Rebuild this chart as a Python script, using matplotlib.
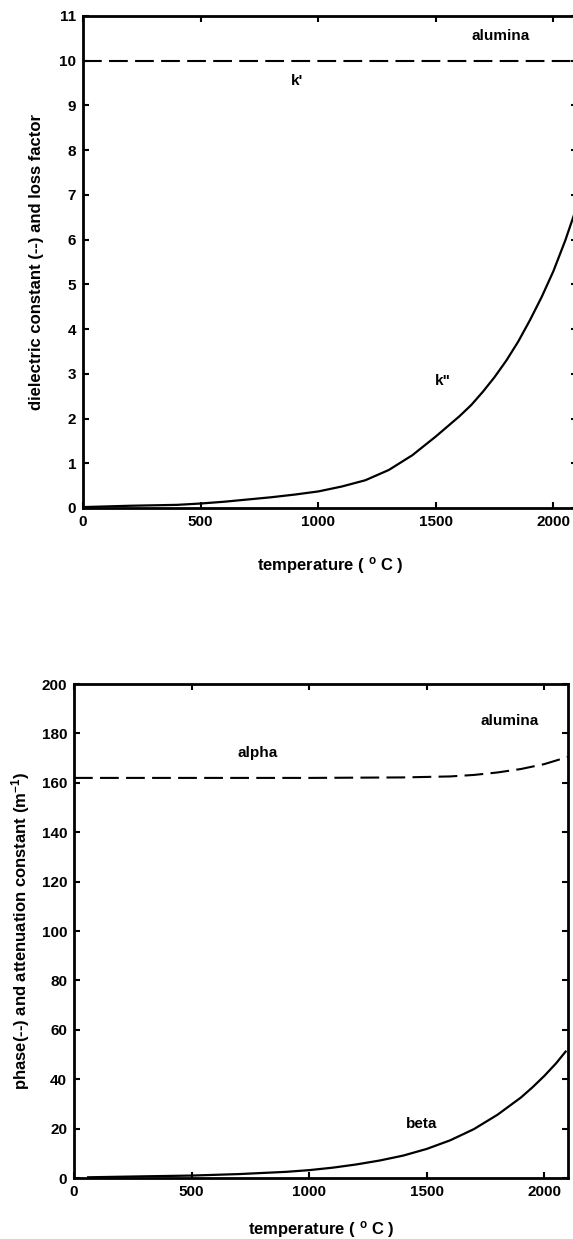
import matplotlib
matplotlib.use("Agg")
import matplotlib.pyplot as plt

plt.rcParams['font.family'] = ['Liberation Sans', 'DejaVu Sans']
plt.rcParams['mathtext.fontset'] = 'custom'
plt.rcParams['mathtext.rm'] = 'Liberation Sans:bold'
plt.rcParams['mathtext.it'] = 'Liberation Sans:italic:bold'
plt.rcParams['mathtext.bf'] = 'Liberation Sans:bold'

# dielectric constant (k') and loss factor (k'') of alumina vs temperature
temp_k = [0, 200, 400, 500, 600, 700, 800, 900, 1000, 1100, 1200, 1300, 1400,
          1500, 1600, 1650, 1700, 1750, 1800, 1850, 1900, 1950, 2000, 2050, 2100]
k_prime = [10.0] * len(temp_k)
k_loss = [0.02, 0.05, 0.07, 0.1, 0.14, 0.19, 0.24, 0.3, 0.37, 0.48, 0.62,
          0.85, 1.18, 1.6, 2.05, 2.3, 2.6, 2.93, 3.3, 3.72, 4.2, 4.72, 5.3,
          5.98, 6.75]

# attenuation (alpha) and phase (beta) constants
temp_a = [0, 500, 1000, 1400, 1600, 1700, 1800, 1900, 2000, 2100]
alpha = [162.0, 162.0, 162.0, 162.2, 162.6, 163.2, 164.2, 165.6, 167.6, 170.5]
temp_b = [60, 300, 500, 700, 900, 1000, 1100, 1200, 1300, 1400, 1500, 1600,
          1700, 1800, 1900, 1950, 2000, 2050, 2090]
beta = [0.3, 0.7, 1.0, 1.6, 2.5, 3.2, 4.2, 5.5, 7.1, 9.1, 11.8, 15.3, 19.8,
        25.6, 32.6, 36.8, 41.4, 46.5, 51.2]

x_ticks = [0, 500, 1000, 1500, 2000]

fig = plt.figure(figsize=(5.73, 12.39), dpi=100)
ax1 = fig.add_axes([0.1449, 0.5900, 0.8621, 0.3971])
ax2 = fig.add_axes([0.1291, 0.0492, 0.8621, 0.3987])

dash = (0, (9, 3.5))
xlab = 'temperature ( $^{\\mathrm{o}}$ C )'
fs = 11

# --- top panel ---
ax1.plot(temp_k, k_prime, color='black', linewidth=1.5, linestyle=dash)
ax1.plot(temp_k, k_loss, color='black', linewidth=1.6)
ax1.set_xlim(0, 2100)
ax1.set_ylim(0, 11)
ax1.set_yticks(range(0, 12))
ax1.set_xticks(x_ticks)
ax1.text(1775, 10.55, 'alumina', ha='center', va='center', fontsize=fs, fontweight='bold')
ax1.text(910, 9.55, "k'", ha='center', va='center', fontsize=fs, fontweight='bold')
ax1.text(1530, 2.85, 'k"', ha='center', va='center', fontsize=fs, fontweight='bold')
ax1.set_xlabel(xlab, fontsize=12, fontweight='bold')
ax1.set_ylabel('dielectric constant (--) and loss factor', fontsize=12, fontweight='bold')
ax1.xaxis.set_label_coords(0.5, -0.095)
ax1.yaxis.set_label_coords(-0.08, 0.5)

# --- bottom panel ---
ax2.plot(temp_a, alpha, color='black', linewidth=1.5, linestyle=dash)
ax2.plot(temp_b, beta, color='black', linewidth=1.6)
ax2.set_xlim(0, 2100)
ax2.set_ylim(0, 200)
ax2.set_yticks(range(0, 201, 20))
ax2.set_xticks(x_ticks)
ax2.text(1850, 185, 'alumina', ha='center', va='center', fontsize=fs, fontweight='bold')
ax2.text(780, 172, 'alpha', ha='center', va='center', fontsize=fs, fontweight='bold')
ax2.text(1480, 22, 'beta', ha='center', va='center', fontsize=fs, fontweight='bold')
ax2.set_xlabel(xlab, fontsize=12, fontweight='bold')
ax2.set_ylabel('phase(--) and attenuation constant (m$^{-1}$)',
               fontsize=12, fontweight='bold')
ax2.xaxis.set_label_coords(0.5, -0.082)
ax2.yaxis.set_label_coords(-0.085, 0.5)

for ax in (ax1, ax2):
    for s in ax.spines.values():
        s.set_linewidth(2.0)
    ax.tick_params(direction='in', length=4, width=1.5, top=True, right=True,
                   labelsize=fs, pad=5)
    for lab in ax.get_xticklabels() + ax.get_yticklabels():
        lab.set_fontweight('bold')

fig.savefig('out.png', dpi=100)
